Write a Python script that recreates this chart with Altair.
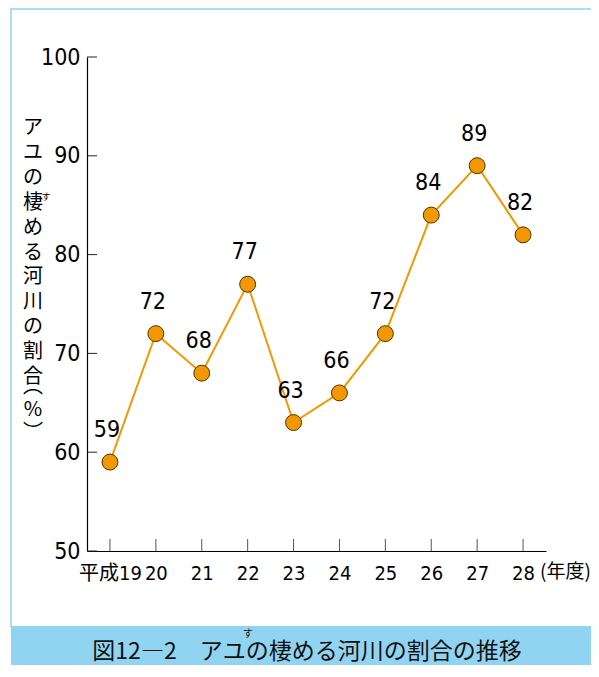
import altair as alt
import pandas as pd

# ---- data ----
years = ["平成19", "20", "21", "22", "23", "24", "25", "26", "27", "28"]
ratio = [59, 72, 68, 77, 63, 66, 72, 84, 89, 82]
y_ticks = [50, 60, 70, 80, 90, 100]
y_title_chars = ["ア", "ユ", "の", "棲", "め", "る", "河", "川", "の", "割", "合"]
y_unit_chars = ["︵", "%", "︶"]
ruby = "す"
caption = "図12―2　アユの棲める河川の割合の推移"
x_unit = "(年度)"

df = pd.DataFrame({"year": years, "ratio": ratio})
ytick_df = pd.DataFrame({"v": y_ticks})
xtick_df = pd.DataFrame({"year": years})
one = pd.DataFrame({"title": ["\n".join(y_title_chars)],
                    "yunit": ["\n".join(y_unit_chars)],
                    "cap": [caption], "unit": [x_unit], "ruby": [ruby]})

W, H = 459, 494
PAD_L, PAD_T, PAD_R, PAD_B = 79, 49, 45, 114
NUM_FONT = "Liberation Sans Narrow, DejaVu Sans Condensed, Noto Sans CJK JP, sans-serif"
JP_FONT = "Noto Sans CJK JP, sans-serif"
ORANGE = "#F39800"
FRAME = "#8FD3F4"

xs = alt.Scale(type="point", domain=years, padding=0.5)
ys = alt.Scale(domain=[50, 100], nice=False, zero=False)

x_axis = alt.Axis(title=None, labelAngle=0, ticks=False, grid=False, domainColor="#000",
                  domainWidth=1.2, labelFont=NUM_FONT, labelFontSize=20,
                  labelColor="#000", labelPadding=12)
y_axis = alt.Axis(title=None, values=y_ticks, grid=False, ticks=False,
                  domainColor="#000", domainWidth=1.2, labelFont=NUM_FONT,
                  labelFontSize=23, labelColor="#000", labelPadding=7,
                  labelBaseline="middle")

X = alt.X("year:N", scale=xs, sort=years, axis=x_axis)
Y = alt.Y("ratio:Q", scale=ys, axis=y_axis)

line = alt.Chart(df).mark_line(color=ORANGE, strokeWidth=2).encode(x=X, y=Y)

points = alt.Chart(df).mark_circle(size=254, color=ORANGE, opacity=1,
                                   stroke="#4a3500", strokeWidth=1).encode(x=X, y=Y)

labels = alt.Chart(df).mark_text(font=NUM_FONT, fontSize=23, color="#000",
                                 dy=-32, dx=-3, baseline="middle").encode(
    x=X, y=Y, text="ratio:Q")

yticks = alt.Chart(ytick_df).mark_rule(color="#222", strokeWidth=1).encode(
    y=alt.Y("v:Q", scale=ys, axis=y_axis), x=alt.value(0), x2=alt.value(10))

xticks = alt.Chart(xtick_df).mark_rule(color="#555", strokeWidth=1).encode(
    x=X, y=alt.value(H - 12), y2=alt.value(H))

# ---- decorations: frame, caption band, titles ----
RIGHT = W + PAD_R
BOTTOM = H + PAD_B
frame_left = alt.Chart(one).mark_rule(color=FRAME, strokeWidth=1.5).encode(
    x=alt.value(-76), y=alt.value(-49), y2=alt.value(570))
frame_top = alt.Chart(one).mark_rule(color=FRAME, strokeWidth=1.5).encode(
    y=alt.value(-48), x=alt.value(-76), x2=alt.value(RIGHT))
band = alt.Chart(one).mark_rect(color="#91D4F2").encode(
    x=alt.value(-76), x2=alt.value(RIGHT), y=alt.value(569), y2=alt.value(BOTTOM))
cap_text = alt.Chart(one).mark_text(font=JP_FONT, fontSize=23, color="#111",
                                    align="center", baseline="middle").encode(
    x=alt.value(220), y=alt.value(595), text="cap:N")
cap_ruby = alt.Chart(one).mark_text(font=JP_FONT, fontSize=10, color="#111",
                                    align="center", baseline="middle").encode(
    x=alt.value(161), y=alt.value(577), text="ruby:N")

ytitle = alt.Chart(one).mark_text(font=JP_FONT, fontSize=20, color="#000",
                                  align="center", baseline="middle", lineBreak="\n",
                                  lineHeight=24.9).encode(
    x=alt.value(-54), y=alt.value(71), text="title:N")
yunit = alt.Chart(one).mark_text(font=JP_FONT, fontSize=20, color="#000",
                                 align="center", baseline="middle", lineBreak="\n",
                                 lineHeight=23).encode(
    x=alt.value(-54), y=alt.value(330), text="yunit:N")
ytitle_ruby = alt.Chart(one).mark_text(font=JP_FONT, fontSize=9, color="#000",
                                       align="center", baseline="middle").encode(
    x=alt.value(-41), y=alt.value(140), text="ruby:N")

unit = alt.Chart(one).mark_text(font=JP_FONT, fontSize=19, color="#000",
                                align="left", baseline="middle").encode(
    x=alt.value(453), y=alt.value(515), text="unit:N")

chart = alt.layer(
    line, band, frame_left, frame_top, cap_text, cap_ruby,
    ytitle, yunit, ytitle_ruby, unit,
    yticks, xticks, points, labels,
).properties(
    width=W, height=H,
    padding={"left": PAD_L, "top": PAD_T, "right": PAD_R, "bottom": PAD_B},
    autosize=alt.AutoSizeParams(type="none"),
).configure_view(stroke=None)

chart.save("out.html", embed_options={"renderer": "svg", "actions": False})
